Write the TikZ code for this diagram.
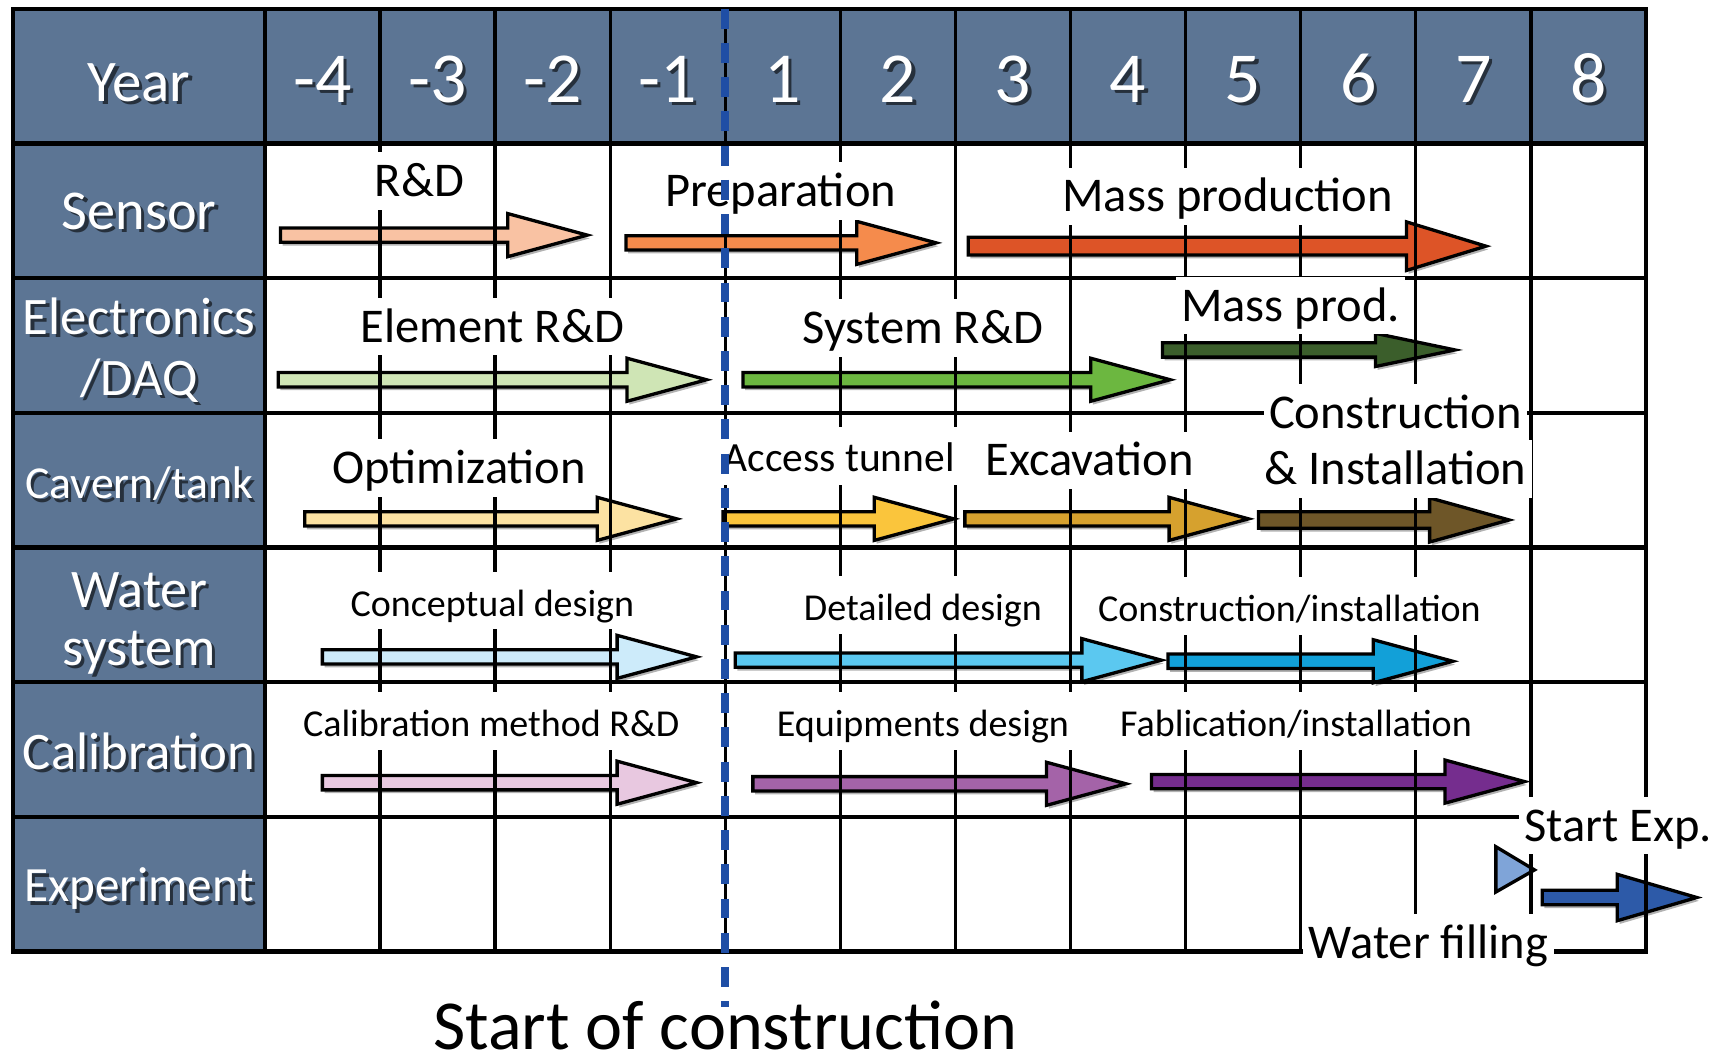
\documentclass[tikz,border=0pt]{standalone}
\usepackage{fontspec}
\setmainfont{Carlito}

\definecolor{hdblue}{RGB}{92,117,148}
\definecolor{hdshadow}{RGB}{38,48,60}
\definecolor{startblue}{RGB}{31,78,165}
\definecolor{sensA}{RGB}{249,194,163}
\definecolor{sensB}{RGB}{245,139,76}
\definecolor{sensC}{RGB}{221,84,39}
\definecolor{elecA}{RGB}{207,229,181}
\definecolor{elecB}{RGB}{108,183,64}
\definecolor{elecC}{RGB}{59,94,43}
\definecolor{cavA}{RGB}{252,226,162}
\definecolor{cavB}{RGB}{250,197,60}
\definecolor{cavC}{RGB}{214,161,46}
\definecolor{cavD}{RGB}{110,86,40}
\definecolor{watA}{RGB}{205,235,250}
\definecolor{watB}{RGB}{91,200,240}
\definecolor{watC}{RGB}{18,160,216}
\definecolor{calA}{RGB}{232,200,224}
\definecolor{calB}{RGB}{164,99,168}
\definecolor{calC}{RGB}{117,45,142}
\definecolor{expA}{RGB}{127,164,216}
\definecolor{expB}{RGB}{45,90,168}

\newcommand{\shadowed}[1]{\makebox[0pt][l]{\hspace{0.3mm}\raisebox{-0.3mm}{\color{hdshadow}#1}}#1}

% x start, x tip, y, shaft half, head half, colour
\newcommand{\taskarrow}[6]{%
  \fill[black,opacity=.3] (#1+2,#3-#4+3) -- (#2-72+2,#3-#4+3) -- (#2-72+2,#3-#5+3) -- (#2+2,#3+3) -- (#2-72+2,#3+#5+3) -- (#2-72+2,#3+#4+3) -- (#1+2,#3+#4+3) -- cycle;
  \filldraw[task,fill=#6] (#1,#3-#4) -- (#2-72,#3-#4) -- (#2-72,#3-#5) -- (#2,#3) -- (#2-72,#3+#5) -- (#2-72,#3+#4) -- (#1,#3+#4) -- cycle;
}

\tikzset{
  task/.style={draw=black,line width=0.3mm,line join=miter},
  gridv/.style={draw=black,line width=0.3mm},
  gridh/.style={draw=black,line width=0.4mm},
  lbl/.style={fill=white,anchor=base,inner xsep=0.5mm,inner ysep=1.2mm,text height=0.8em,text depth=0pt,font=\fontsize{12.5}{15}\selectfont},
  lblmid/.style={lbl,font=\fontsize{10.7}{13}\selectfont},
  lblsmall/.style={lbl,font=\fontsize{9.8}{12}\selectfont},
}

\begin{document}
\begin{tikzpicture}[x=0.1mm,y=-0.1mm]
\useasboundingbox (0,0) rectangle (1568,958);

% header cells
\fill[hdblue] (12,8) rectangle (1491,130);
\fill[hdblue] (12,130) rectangle (240,862);

% tasks
\taskarrow{254}{532}{213}{6.5}{19.5}{sensA}
\taskarrow{567}{848}{220}{6.5}{19.5}{sensB}
\taskarrow{877}{1346}{223}{8}{22}{sensC}
\taskarrow{252}{640}{344}{6.5}{19.5}{elecA}
\taskarrow{673}{1060}{344}{6.5}{19.5}{elecB}
\taskarrow{1053}{1318}{317}{6.5}{15}{elecC}
\taskarrow{276}{613}{470}{6.5}{19.5}{cavA}
\taskarrow{655}{864}{470}{6.5}{19.5}{cavB}
\taskarrow{874}{1131}{470}{6.5}{19.5}{cavC}
\taskarrow{1140}{1367}{471}{7.5}{20}{cavD}
\taskarrow{292}{631}{595}{6.5}{19.5}{watA}
\taskarrow{666}{1052}{598}{6.5}{19.5}{watB}
\taskarrow{1058}{1316}{599}{6.5}{19.5}{watC}
\taskarrow{292}{631}{709}{6.5}{19.5}{calA}
\taskarrow{682}{1020}{710}{6.5}{19.5}{calB}
\taskarrow{1043}{1381}{708}{6.5}{19.5}{calC}
\filldraw[task,fill=expA] (1355,767) -- (1390,788) -- (1355,808) -- cycle;
\taskarrow{1397}{1537}{813}{6.5}{21}{expB}

% grid
\draw[gridv] (344.25,8) -- (344.25,862);
\draw[gridv] (448.5,8) -- (448.5,862);
\draw[gridv] (552.75,8) -- (552.75,862);
\draw[gridv] (657,8) -- (657,862);
\draw[gridv] (761.25,8) -- (761.25,862);
\draw[gridv] (865.5,8) -- (865.5,862);
\draw[gridv] (969.75,8) -- (969.75,862);
\draw[gridv] (1074,8) -- (1074,862);
\draw[gridv] (1178.25,8) -- (1178.25,862);
\draw[gridv] (1282.5,8) -- (1282.5,862);
\draw[gridv] (1386.75,8) -- (1386.75,862);
\draw[gridh] (240,8) -- (240,862);
\draw[gridh] (12,130) -- (1491,130);
\draw[gridh] (12,252) -- (1491,252);
\draw[gridh] (12,374) -- (1491,374);
\draw[gridh] (12,496) -- (1491,496);
\draw[gridh] (12,618) -- (1491,618);
\draw[gridh] (12,740) -- (1491,740);
\draw[gridh] (12,8) rectangle (1491,862);

% task labels
\node[lbl] (rd) at (380,178) {R\&D};
\node[lbl] (prep) at (707,187) {Preparation};
\node[lbl] (massprod) at (1112,192) {Mass production};
\node[lbl] (elemrd) at (446,310) {Element R\&D};
\node[lbl] (sysrd) at (836,311) {System R\&D};
\node[lbl] (massprodB) at (1169,291) {Mass prod.};
\node[lbl] (optim) at (416,438) {Optimization};
\node[lblmid] (tunnel) at (760,427) {Access tunnel};
\node[lbl] (excav) at (987,431) {Excavation};
\node[lbl] (constrA) at (1264,388) {Construction};
\node[lbl] (constrB) at (1264,439) {\& Installation};
\node[lblsmall] (concept) at (446,558) {Conceptual design};
\node[lblsmall] (detail) at (836,562) {Detailed design};
\node[lblsmall] (waterconstr) at (1168,563) {Construction/installation};
\node[lblsmall] (calrd) at (445,667) {Calibration method R\&D};
\node[lblsmall] (equip) at (836,667) {Equipments design};
\node[lblsmall] (fab) at (1174,667) {Fablication/installation};
\node[lbl] (startexp) at (1466,762) {Start Exp.};
\node[lbl] (filling) at (1294,868) {Water filling};

% header texts
\begin{scope}[every node/.style={anchor=base,text=white,inner sep=0pt,font=\fontsize{18.5}{20}\selectfont}]
  \node[font=\fontsize{15.2}{18}\selectfont] (year) at (126,92) {\shadowed{Year}};
  \node (ym4) at (292.1,93) {\shadowed{-4}};
  \node (ym3) at (396.4,93) {\shadowed{-3}};
  \node (ym2) at (500.6,93) {\shadowed{-2}};
  \node (ym1) at (604.9,93) {\shadowed{-1}};
  \node (yp1) at (709.1,93) {\shadowed{1}};
  \node (yp2) at (813.4,93) {\shadowed{2}};
  \node (yp3) at (917.6,93) {\shadowed{3}};
  \node (yp4) at (1021.9,93) {\shadowed{4}};
  \node (yp5) at (1126.1,93) {\shadowed{5}};
  \node (yp6) at (1230.4,93) {\shadowed{6}};
  \node (yp7) at (1334.6,93) {\shadowed{7}};
  \node (yp8) at (1438.9,93) {\shadowed{8}};
\end{scope}
\begin{scope}[every node/.style={anchor=base,text=white,inner sep=0pt,font=\fontsize{13.6}{16}\selectfont}]
  \node[font=\fontsize{14.5}{17}\selectfont] (sensor) at (126,208) {\shadowed{Sensor}};
  \node (elecA) at (126,303) {\shadowed{Electronics}};
  \node (elecB) at (126,358) {\shadowed{/DAQ}};
  \node[font=\fontsize{11.8}{14}\selectfont] (cavern) at (126,452) {\shadowed{Cavern/tank}};
  \node[font=\fontsize{14}{17}\selectfont] (waterA) at (126,550) {\shadowed{Water}};
  \node[font=\fontsize{14}{17}\selectfont] (waterB) at (126,603) {\shadowed{system}};
  \node (calib) at (126,697) {\shadowed{Calibration}};
  \node[font=\fontsize{12.7}{15}\selectfont] (expt) at (126,817) {\shadowed{Experiment}};
\end{scope}

% start of construction
\coordinate (ctop) at (657,8);
\coordinate (cbot) at (657,912);
\draw[startblue,line width=0.7mm,dash pattern=on 1.8mm off 1.3mm] (ctop) -- (cbot);
\node[anchor=base,inner sep=0pt,font=\fontsize{18.1}{21}\selectfont] (startcon) at (657,951) {Start of construction};
\end{tikzpicture}
\end{document}
